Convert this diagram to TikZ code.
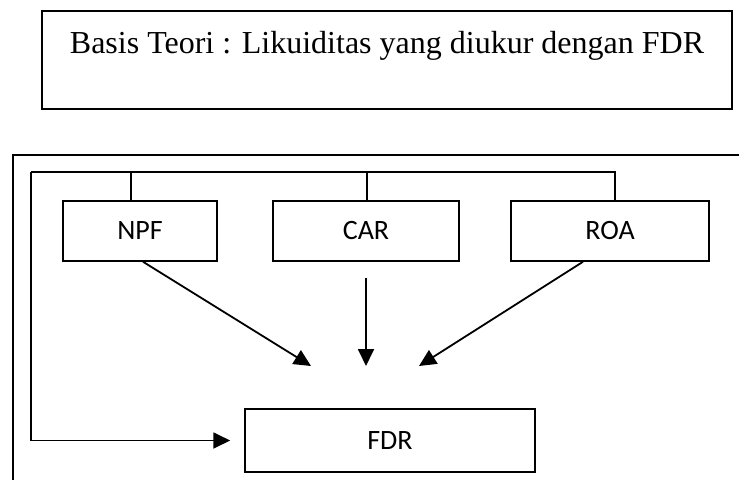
\documentclass[tikz,border=0pt]{standalone}
\usepackage{fontspec}
\setmainfont{Liberation Serif}
\newfontfamily\calibri{Carlito}
\usetikzlibrary{arrows.meta}

\begin{document}
\begin{tikzpicture}[x=1pt, y=-1pt,
  box/.style={draw, line width=1.5pt, inner sep=0pt, minimum height=60pt, font=\calibri\fontsize{28}{32}\selectfont},
  link/.style={line width=1.5pt},
  arr/.style={line width=1.8pt, -{Triangle[length=17pt, width=16pt]}}]
\useasboundingbox (0,0) rectangle (739,480);
% theory box
\node[draw, line width=2pt, anchor=north west, inner sep=0pt, minimum width=690pt, text height=42pt, text depth=56pt, font=\fontsize{32}{36}\selectfont] (teori) at (41,10) {Basis Teori : Likuiditas yang diukur dengan FDR};
% frame
\draw[line width=2.2pt] (13,480) -- (13,155) -- (739,155);
% variables
\node[box, minimum width=154pt] (npf) at (140,231) {NPF};
\node[box, minimum width=186pt] (car) at (366,231) {CAR};
\node[box, minimum width=198pt] (roa) at (610,231) {ROA};
\node[box, minimum width=290pt, minimum height=63pt] (fdr) at (390,440.5) {FDR};
% bracket
\coordinate (corner) at (31,172);
\coordinate (npfup) at (131,172);
\coordinate (carup) at (367,172);
\coordinate (roaup) at (615,172);
\draw[link] (roaup |- roa.north) -- (roaup) -- (corner);
\draw[link] (npfup) -- (npfup |- npf.north);
\draw[link] (carup) -- (carup |- car.north);
\draw[arr] (corner) |- ([xshift=-14pt]fdr.west);
% arrows
\coordinate (tipnpf) at (311,366);
\coordinate (tipcar) at (366,366);
\coordinate (tiproa) at (419,366);
\draw[arr] ([xshift=3pt]npf.south) -- (tipnpf);
\draw[arr] ([yshift=-16pt]car.south) -- (tipcar);
\draw[arr] ([xshift=-27pt]roa.south) -- (tiproa);
\end{tikzpicture}
\end{document}
